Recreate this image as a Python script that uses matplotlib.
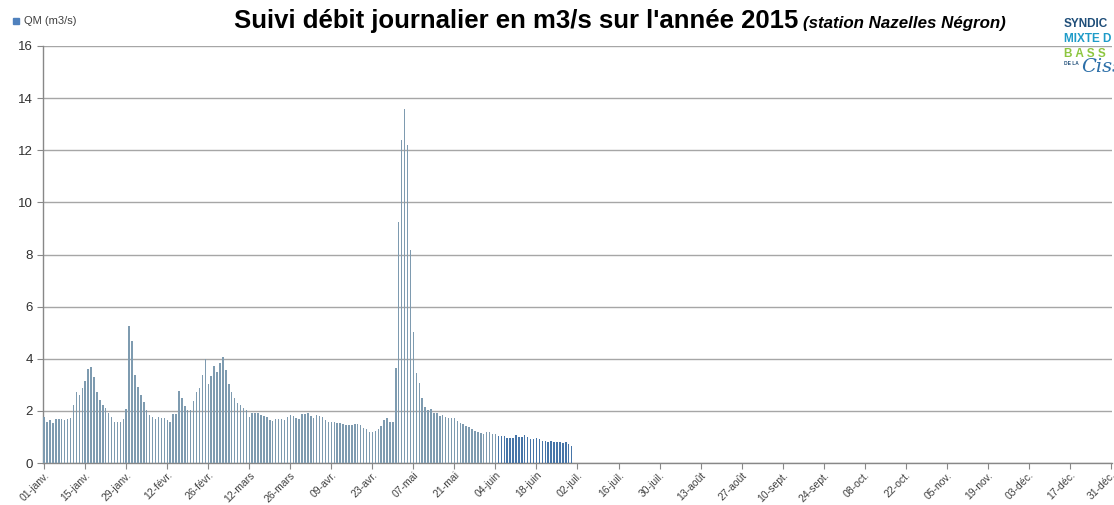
import matplotlib.pyplot as plt
import numpy as np
import pandas as pd

# Débit journalier QM (m3/s), station Nazelles Négron, 2015
q_janv = [1.78, 1.59, 1.65, 1.55, 1.68, 1.68, 1.68, 1.65, 1.69, 1.74,
          2.23, 2.74, 2.62, 2.87, 3.13, 3.60, 3.68, 3.29, 2.72, 2.42,
          2.23, 2.10, 1.94, 1.78, 1.56, 1.56, 1.56, 1.68, 2.06, 5.27,
          4.69]
q_fevr = [3.38, 2.90, 2.62, 2.33, 2.04, 1.85, 1.76, 1.69, 1.76, 1.74,
          1.72, 1.64, 1.58, 1.87, 1.90, 2.77, 2.49, 2.19, 2.04, 2.03,
          2.38, 2.74, 2.87, 3.38, 4.01, 3.05, 3.35, 3.71]
q_mars = [3.51, 3.83, 4.05, 3.58, 3.03, 2.72, 2.50, 2.30, 2.23, 2.11,
          2.04, 1.76, 1.91, 1.91, 1.91, 1.85, 1.81, 1.78, 1.64, 1.63,
          1.68, 1.71, 1.69, 1.65, 1.77, 1.83, 1.81, 1.72, 1.69, 1.87,
          1.87]
q_avr = [1.91, 1.79, 1.74, 1.85, 1.82, 1.77, 1.67, 1.59, 1.56, 1.56,
         1.53, 1.53, 1.50, 1.45, 1.46, 1.46, 1.49, 1.49, 1.45, 1.36,
         1.31, 1.18, 1.18, 1.23, 1.30, 1.44, 1.64, 1.73, 1.59, 1.56]
q_mai = [3.64, 9.26, 12.39, 13.57, 12.20, 8.17, 5.04, 3.44, 3.08,
         2.48, 2.15, 2.05, 2.09, 1.93, 1.92, 1.79, 1.85, 1.78, 1.74, 1.72,
         1.72, 1.62, 1.55, 1.51, 1.44, 1.37, 1.30, 1.24, 1.18, 1.15,
         1.12]
q_juin = [1.21, 1.21, 1.12, 1.10, 1.05, 1.04, 1.04, 0.97, 0.97, 0.97,
          1.08, 1.00, 1.00, 1.08, 1.01, 0.92, 0.92, 0.95, 0.91, 0.86,
          0.85, 0.82, 0.85, 0.79, 0.79, 0.79, 0.78, 0.79, 0.72, 0.65]

tick_labels = ["01-janv.", "15-janv.", "29-janv.", "12-févr.", "26-févr.",
               "12-mars", "26-mars", "09-avr.", "23-avr.", "07-mai",
               "21-mai", "04-juin", "18-juin", "02-juil.", "16-juil.",
               "30-juil.", "13-août", "27-août", "10-sept.", "24-sept.",
               "08-oct.", "22-oct.", "05-nov.", "19-nov.", "03-déc.",
               "17-déc.", "31-déc."]

qm = np.array(q_janv + q_fevr + q_mars + q_avr + q_mai + q_juin)
dates = pd.date_range("2015-01-01", periods=len(qm), freq="D")
days = np.asarray((dates - pd.Timestamp("2015-01-01")).days)

plt.rcParams["font.family"] = ["Liberation Sans", "DejaVu Sans"]

fig = plt.figure(figsize=(11.14, 5.05), dpi=100)
ax = fig.add_axes([0.0386, 0.083, 0.9596, 0.826])

# later data (from 5 June) drawn darker, as in the original
colors = np.where(dates >= pd.Timestamp("2015-06-05"), "#4675A8", "#7E9BB0")
ax.bar(days, qm, width=0.5, color=colors, linewidth=0, zorder=3)

ax.set_xlim(-0.4, 364.4)
ax.set_ylim(0, 16)
ax.set_yticks(np.arange(0, 17, 2))
ax.set_xticks(np.arange(len(tick_labels)) * 14)
ax.set_xticklabels(tick_labels, rotation=45, ha="right", rotation_mode="anchor",
                   fontsize=7.5, color="#404040")
ax.tick_params(axis="y", labelsize=9.5, labelcolor="#303030", length=4,
               color="#888888", direction="out")
ax.tick_params(axis="x", length=4, color="#888888", direction="out", pad=1)

ax.grid(axis="y", color="#A6A6A6", linewidth=1.0, zorder=0)
for side in ["top", "right"]:
    ax.spines[side].set_visible(False)
for side in ["left", "bottom"]:
    ax.spines[side].set_color("#888888")
    ax.spines[side].set_linewidth(1.0)

# titre
fig.text(0.7165, 0.958, "Suivi débit journalier en m3/s sur l'année 2015",
         ha="right", va="center", fontsize=18.5, fontweight="bold", color="black")
fig.text(0.7205, 0.953, "(station Nazelles Négron)", ha="left", va="center",
         fontsize=12.2, fontweight="bold", fontstyle="italic", color="black")

# légende
fig.patches.append(plt.Rectangle((0.0115, 0.953), 0.0055, 0.012,
                                 transform=fig.transFigure, color="#4F81BD"))
fig.text(0.0215, 0.959, "QM (m3/s)", ha="left", va="center", fontsize=8,
         color="#404040")

# logo (texte seulement)
fig.text(0.955, 0.946, "SYNDIC", fontsize=8.5, fontweight="bold", color="#1F4E79")
fig.text(0.955, 0.917, "MIXTE D", fontsize=8.5, fontweight="bold", color="#1E9BC8")
fig.text(0.955, 0.888, "B A S S", fontsize=8.5, fontweight="bold", color="#8DC63F")
fig.text(0.955, 0.872, "DE LA", fontsize=3.5, fontweight="bold", color="#1F4E79")
fig.text(0.971, 0.857, "Ciss", fontsize=14, fontstyle="italic", color="#2C6FA8",
         family=["DejaVu Serif"])

fig.savefig("out.png", dpi=100)
